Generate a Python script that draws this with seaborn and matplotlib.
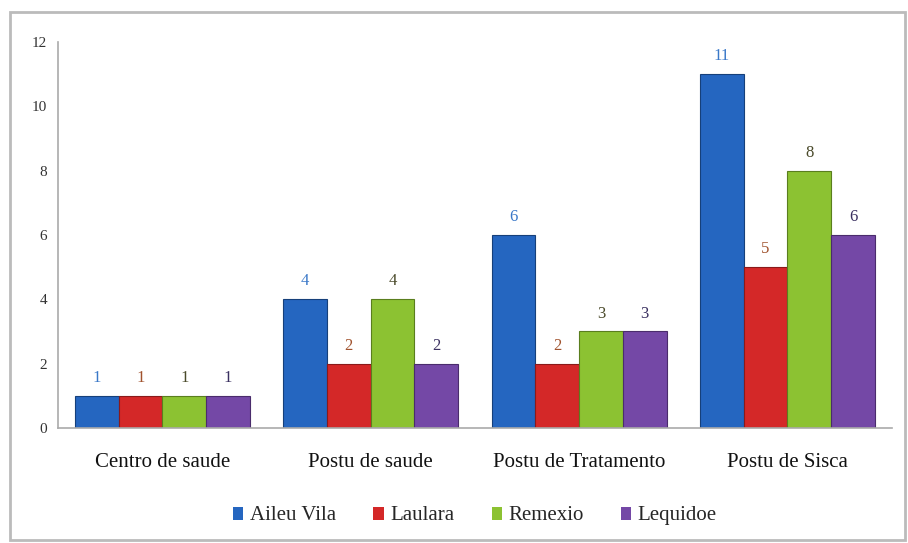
import matplotlib
matplotlib.use("Agg")
import matplotlib.pyplot as plt
import seaborn as sns
import pandas as pd
from matplotlib.patches import Rectangle

categories = ["Centro de saude", "Postu de saude", "Postu de Tratamento", "Postu de Sisca"]
series = ["Aileu Vila", "Laulara", "Remexio", "Lequidoe"]
aileu_vila = [1, 4, 6, 11]
laulara = [1, 2, 2, 5]
remexio = [1, 4, 3, 8]
lequidoe = [1, 2, 3, 6]

colors = ["#2566c0", "#d42828", "#8cc232", "#7448a6"]
edge_colors = ["#16407a", "#8a1a1a", "#5a7e1e", "#4a2c6c"]
label_colors = ["#3a78c8", "#a0522d", "#4a4a2a", "#3a3060"]

rows = []
for s, vals in zip(series, [aileu_vila, laulara, remexio, lequidoe]):
    for c, v in zip(categories, vals):
        rows.append({"category": c, "series": s, "value": v})
df = pd.DataFrame(rows)

sns.set_theme(style="white")
plt.rcParams["font.family"] = ["Liberation Serif", "DejaVu Serif"]

fig = plt.figure(figsize=(9.08, 5.43), dpi=100)
ax = fig.add_axes([0.064, 0.212, 0.918, 0.711])

sns.barplot(data=df, x="category", y="value", hue="series", order=categories,
            hue_order=series, palette=colors, width=0.84, saturation=1,
            edgecolor="none", ax=ax)

for cont, lc, ec in zip(ax.containers, label_colors, edge_colors):
    for bar in cont:
        bar.set_edgecolor(ec)
        bar.set_linewidth(0.8)
    ax.bar_label(cont, padding=7, color=lc, fontsize=12)

ax.set_ylim(0, 12)
ax.set_xlim(-0.5, 3.5)
ax.set_yticks(range(0, 13, 2))
ax.set_xlabel("")
ax.set_ylabel("")
ax.tick_params(axis="y", labelsize=11, colors="#333333", length=0, pad=8)
ax.tick_params(axis="x", labelsize=15, colors="#111111", length=0, pad=18)
for sp in ["top", "right"]:
    ax.spines[sp].set_visible(False)
for sp in ["left", "bottom"]:
    ax.spines[sp].set_color("#aaaaaa")
    ax.spines[sp].set_linewidth(1.2)

handles, labels = ax.get_legend_handles_labels()
ax.legend(handles, labels, loc="upper center", bbox_to_anchor=(0.5, -0.155),
          ncol=4, frameon=False, fontsize=15, handlelength=0.5, handleheight=0.6,
          handletextpad=0.3, columnspacing=1.8)

fig.patches.append(Rectangle((10 / 908, 3 / 543), 895 / 908, 528 / 543,
                             transform=fig.transFigure, fill=False,
                             edgecolor="#bbbbbb", linewidth=2))

fig.savefig("out.png", dpi=100)
